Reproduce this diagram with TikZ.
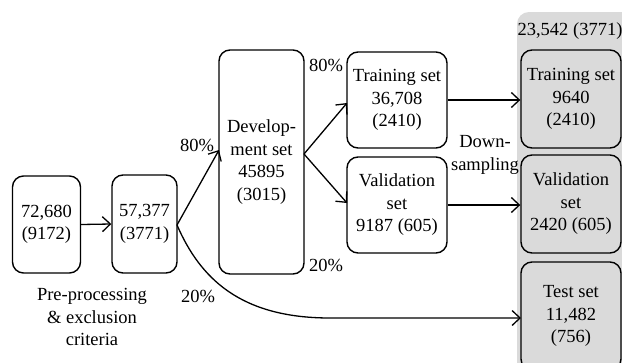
\documentclass[tikz,border=0pt]{standalone}
\usepackage{fontspec}
\setmainfont{Liberation Serif}
\usetikzlibrary{arrows.meta}
\definecolor{panelgray}{HTML}{DADADA}
\begin{document}
\begin{tikzpicture}[x=1pt,y=-1pt,
  every node/.style={font=\fontsize{18.5}{22.5}\selectfont, inner sep=0pt},
  box/.style={draw, line width=1.4pt, rounded corners=11pt, align=center, anchor=center},
  gbox/.style={box, fill=panelgray},
  arr/.style={line width=1.3pt, -{Straight Barb[length=8pt,width=15pt,line width=1.3pt]}},
  lbl/.style={align=center}]
\useasboundingbox (0,0) rectangle (622,362);
\clip (0,0) rectangle (622,362);
\fill[white] (0,0) rectangle (622,362);
\fill[panelgray, rounded corners=12pt] (517,12) rectangle (650,390);
\node[box, minimum width=68pt, minimum height=97pt] (a) at (46.5,224.5) {72,680\\(9172)};
\node[box, minimum width=65pt, minimum height=98pt] (b) at (144.5,224) {57,377\\(3771)};
\node[box, minimum width=85pt, minimum height=224pt] (dev) at (261.5,162) {Develop-\\ment set\\45895\\(3015)};
\node[box, minimum width=100pt, minimum height=96pt] (tr1) at (397,100) {Training set\\36,708\\(2410)};
\node[box, minimum width=100pt, minimum height=96pt] (va1) at (397,205) {Validation\\set\\9187 (605)};
\node[gbox, minimum width=100pt, minimum height=98pt] (tr2) at (571,99) {Training set\\9640\\(2410)};
\node[gbox, minimum width=100pt, minimum height=98pt] (va2) at (571,204) {Validation\\set\\2420 (605)};
\node[gbox, minimum width=100pt, minimum height=108pt] (te) at (571,316) {Test set\\11,482\\(756)};
\node[lbl] (tot) at (570,31) {23,542 (3771)};
\node[lbl] (pre) at (92,317) {Pre-processing\\\&\ exclusion\\criteria};
\node[lbl] (p80a) at (197,145) {80\%};
\node[lbl] (p20a) at (198,296) {20\%};
\node[lbl] (p80b) at (326,65) {80\%};
\node[lbl] (p20b) at (326,265) {20\%};
\node[lbl] (ds) at (485,155) {Down-\\sampling};
\coordinate (bout) at (177,225);
\coordinate (devin) at (219,150);
\coordinate (devout) at (304,154);
\coordinate (tr1in) at (347,103);
\coordinate (va1in) at (347,203);
\coordinate (bend) at (330,318);
\coordinate (tein) at (521,318);
\draw[arr] (a.east) -- (b.west);
\draw[arr] (bout) -- (devin);
\draw[arr] (devout) -- (tr1in);
\draw[arr] (devout) -- (va1in);
\draw[arr] (tr1.east) -- (tr1.east -| tr2.west);
\draw[arr] (va1.east) -- (va1.east -| va2.west);
\draw[arr] (bout) .. controls (200,278) and (240,318) .. (bend) -- (tein);
\end{tikzpicture}
\end{document}
